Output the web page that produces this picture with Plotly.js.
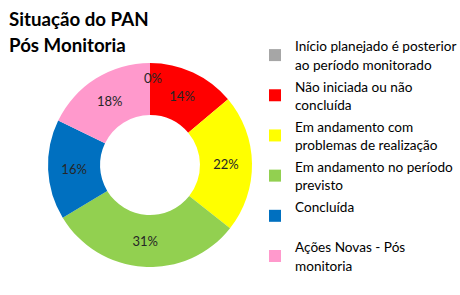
<!DOCTYPE html>
<html>
<head>
<meta charset="utf-8">
<script src="https://cdn.plot.ly/plotly-3.0.1.min.js"></script>
<style>html,body{margin:0;padding:0;background:#fff;}#chart{width:460px;height:295px;}</style>
</head>
<body>
<div id="chart"></div>
<script>
const categories = [
  "Início planejado é posterior<br>ao período monitorado",
  "Não iniciada ou não<br>concluída",
  "Em andamento com<br>problemas de realização",
  "Em andamento no período<br>previsto",
  "Concluída<br>\u00a0",
  "Ações Novas - Pós<br>monitoria"
];
const values = [0, 14, 22, 31, 16, 18];
const colors = ["#A6A6A6", "#FF0000", "#FFFF00", "#92D050", "#0070C0", "#FF99CC"];
const titleLines = ["Situação do PAN", "Pós Monitoria"];

const font = "Lato, 'Open Sans', sans-serif";
const total = values.reduce((a, b) => a + b, 0);
const zeroLabel = Math.round(values[0] / total * 100) + "%";
// legend line spacing follows the legend font size; glyphs drawn slightly smaller
const legendLabels = categories.map(c => c.split("<br>")
  .map(l => '<span style="font-size:13.6px">' + l + '</span>').join("<br>"));

const trace = {
  type: "pie",
  labels: legendLabels,
  values: values,
  marker: {colors: colors, line: {width: 0}},
  hole: 0.49,
  sort: false,
  direction: "clockwise",
  rotation: 0,
  texttemplate: "%{percent:.0%}",
  textposition: "inside",
  insidetextorientation: "horizontal",
  textfont: {family: font, size: 13, color: "#262626"},
  domain: {x: [48/460, 252/460], y: [28/295, 232/295]},
  showlegend: true,
  hoverinfo: "percent"
};
const annotations = titleLines.map((t, i) => ({
  text: "<b>" + t + "</b>", xref: "paper", yref: "paper",
  x: 7/460, y: 1 - (19 + 26*i)/295, xanchor: "left", yanchor: "middle",
  showarrow: false, font: {family: font, size: 18.7, color: "#000"}
}));
annotations.push({
  text: zeroLabel, xref: "paper", yref: "paper",
  x: 153/460, y: 1 - 78/295, xanchor: "center", yanchor: "middle",
  showarrow: false, font: {family: font, size: 13, color: "#262626"}
});
const layout = {
  width: 460, height: 295,
  margin: {l: 0, r: 0, t: 0, b: 0, autoexpand: false},
  paper_bgcolor: "#fff",
  showlegend: true,
  legend: {x: 255/460, y: 1 - 30/295, xanchor: "left", yanchor: "top",
    font: {family: font, size: 14.3, color: "#000"}, traceorder: "normal", itemclick: false},
  annotations: annotations
};
Plotly.newPlot("chart", [trace], layout, {displayModeBar: false, staticPlot: true});
</script>
</body>
</html>
